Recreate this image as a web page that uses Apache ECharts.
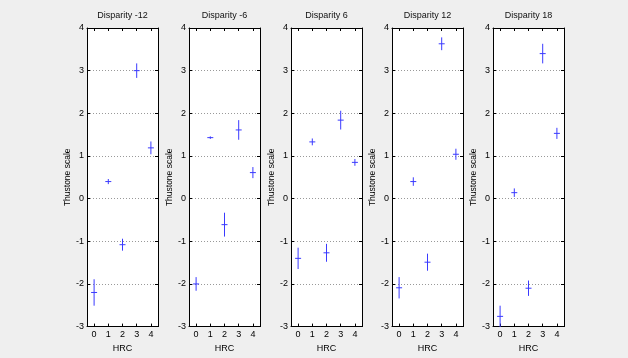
<!DOCTYPE html>
<html><head><meta charset="utf-8">
<script src="https://cdn.jsdelivr.net/npm/echarts@6/dist/echarts.min.js"></script>
<style>html,body{margin:0;padding:0;background:#efefef;overflow:hidden}#c{width:628px;height:358px}</style>
</head><body><div id="c"></div>
<script>
const categories = ['0','1','2','3','4'];
const titles = ['Disparity -12','Disparity -6','Disparity 6','Disparity 12','Disparity 18'];
const yTicks = [-3,-2,-1,0,1,2,3,4];
const meansDm12 = [-2.2, 0.4, -1.08, 3.0, 1.19];
const errDm12   = [0.31, 0.06, 0.14, 0.17, 0.15];
const meansDm6  = [-2.0, 1.43, -0.61, 1.61, 0.61];
const errDm6    = [0.16, 0.03, 0.28, 0.23, 0.13];
const meansD6   = [-1.4, 1.33, -1.27, 1.84, 0.85];
const errD6     = [0.25, 0.08, 0.21, 0.22, 0.08];
const meansD12  = [-2.09, 0.4, -1.49, 3.63, 1.04];
const errD12    = [0.25, 0.1, 0.2, 0.15, 0.13];
const meansD18  = [-2.76, 0.14, -2.1, 3.4, 1.53];
const errD18    = [0.25, 0.1, 0.18, 0.23, 0.13];

const panels = [[meansDm12,errDm12],[meansDm6,errDm6],[meansD6,errD6],[meansD12,errD12],[meansD18,errD18]];
const lefts = [87, 189, 291, 392, 493];
const W = 71, TOP = 28, BOTTOM = 27;
const FONT = '"Liberation Sans", Arial, sans-serif';
const blue = '#3a3aff';

const grid = [], xAxis = [], yAxis = [], series = [], graphic = [];
panels.forEach((p, i) => {
  grid.push({left: lefts[i], top: TOP, width: W, bottom: BOTTOM, show: true, backgroundColor: '#fff', borderWidth: 0});
  graphic.push({type: 'text', x: lefts[i] + W/2, y: 16, silent: true,
    style: {text: titles[i], textAlign: 'center', textVerticalAlign: 'middle', fill: '#111',
      font: '9px ' + FONT}});
  const tick = {show: true, inside: true, length: 3, alignWithLabel: true, lineStyle: {color: '#000'}};
  const line = {show: true, onZero: false, lineStyle: {color: '#000', width: 1}};
  xAxis.push({gridIndex: i, type: 'category', data: categories, boundaryGap: true, position: 'bottom',
    axisLine: line, axisTick: tick,
    axisLabel: {fontSize: 9, color: '#000', margin: 3.5, fontFamily: FONT},
    name: 'HRC', nameLocation: 'middle', nameGap: 10,
    nameTextStyle: {fontSize: 9, color: '#000', fontFamily: FONT}, splitLine: {show: false}});
  xAxis.push({gridIndex: i, type: 'category', data: categories, boundaryGap: true, position: 'top',
    axisLine: line, axisTick: tick, axisLabel: {show: false}, splitLine: {show: false}});
  yAxis.push({gridIndex: i, type: 'value', min: yTicks[0], max: yTicks[yTicks.length-1], interval: 1, position: 'left',
    axisLine: line,
    axisTick: {show: true, inside: true, length: 3, lineStyle: {color: '#000'}},
    axisLabel: {fontSize: 9, color: '#000', margin: 3, fontFamily: FONT},
    splitLine: {show: true, lineStyle: {color: '#999', type: [1, 2], width: 1}},
    name: 'Thustone scale', nameLocation: 'middle', nameGap: 13,
    nameTextStyle: {fontSize: 8.5, color: '#000', fontFamily: FONT}});
  yAxis.push({gridIndex: i, type: 'value', min: yTicks[0], max: yTicks[yTicks.length-1], interval: 1, position: 'right',
    axisLine: line,
    axisTick: {show: true, inside: true, length: 3, lineStyle: {color: '#000'}},
    axisLabel: {show: false}, splitLine: {show: false}});
  const data = p[0].map((m, k) => [k, m, p[1][k]]);
  series.push({type: 'custom', xAxisIndex: 2*i, yAxisIndex: 2*i, data: data, encode: {x: 0, y: 1},
    renderItem: function (params, api) {
      const x = api.value(0), m = api.value(1), e = api.value(2);
      const c = api.coord([x, m]), t = api.coord([x, m + e]), b = api.coord([x, m - e]);
      const st = {stroke: blue, lineWidth: 1};
      return {type: 'group', children: [
        {type: 'line', shape: {x1: c[0], y1: t[1], x2: c[0], y2: b[1]}, style: st},
        {type: 'line', shape: {x1: c[0]-3, y1: c[1], x2: c[0]+3, y2: c[1]}, style: st}
      ]};
    }});
});

const chart = echarts.init(document.getElementById('c'), null, {renderer: 'canvas', width: 628, height: 358});
chart.setOption({backgroundColor: '#efefef', animation: false, grid, xAxis, yAxis, series, graphic});
</script></body></html>
